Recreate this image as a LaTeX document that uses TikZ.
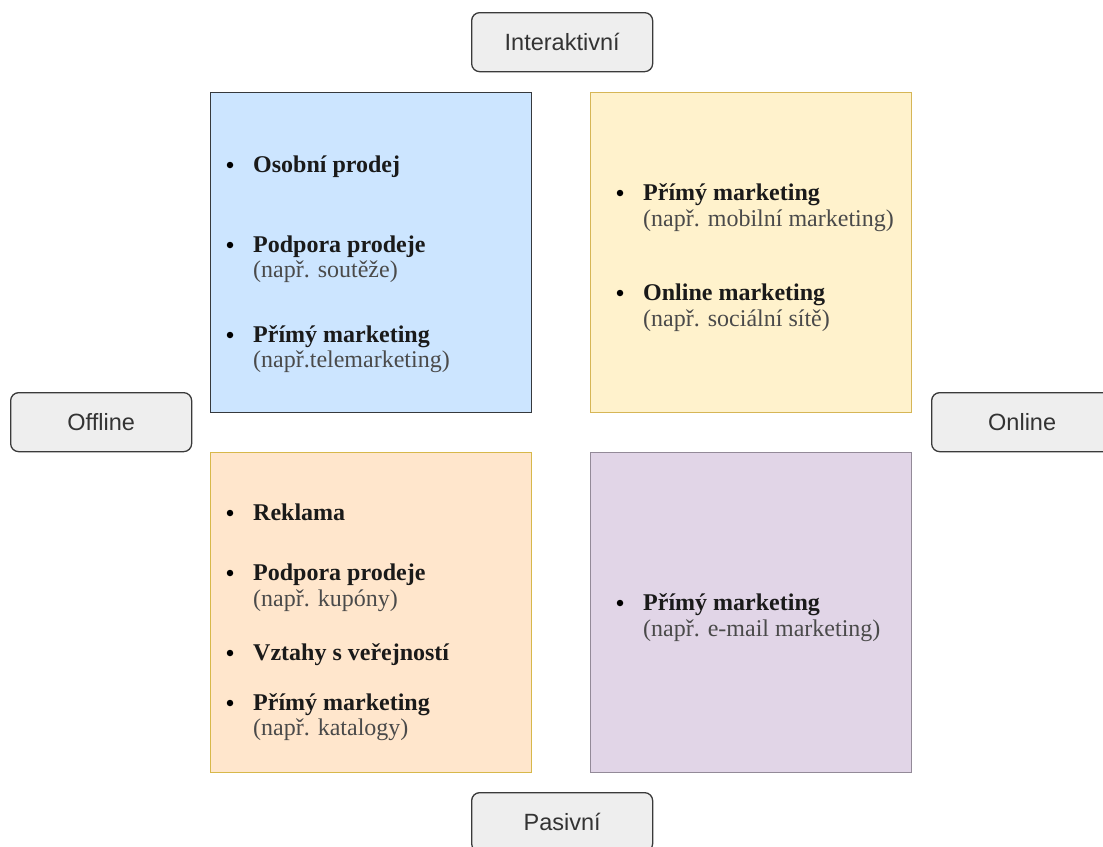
\documentclass[tikz,border=0pt]{standalone}
\usepackage{fontspec}
\setmainfont{Liberation Serif}
\newfontfamily\labelfont{Liberation Sans}
\definecolor{bluefill}{HTML}{CCE5FF}
\definecolor{blueline}{HTML}{36393D}
\definecolor{yelfill}{HTML}{FFF2CC}
\definecolor{yelline}{HTML}{D6B656}
\definecolor{orfill}{HTML}{FFE6CC}
\definecolor{orline}{HTML}{D7B84A}
\definecolor{purfill}{HTML}{E1D5E7}
\definecolor{purline}{HTML}{938A98}
\definecolor{lblfill}{HTML}{EEEEEE}
\definecolor{lblline}{HTML}{3A3A3A}
\definecolor{lbltext}{HTML}{333333}
\definecolor{headtext}{HTML}{1A1A1A}
\definecolor{subtext}{HTML}{4A4A4A}
\newcommand\bitem[4]{%
  \node[bul] (#1b) at (#2-23,#3-7) {};
  \node[head] (#1) at (#2,#3) {#4};}
\newcommand\bsub[4]{\node[sub] (#1) at (#2,#3) {#4};}
\begin{document}
\begin{tikzpicture}[x=1pt,y=-1pt,
  quad/.style={line width=1.3pt, minimum width=321pt, minimum height=320pt, anchor=north west, inner sep=0pt},
  lbl/.style={draw=lblline, fill=lblfill, line width=1.3pt, rounded corners=8pt, minimum width=181pt, minimum height=59pt, anchor=north west, inner sep=0pt, font=\labelfont\fontsize{23.5}{27}\selectfont, text=lbltext},
  head/.style={anchor=base west, inner sep=0pt, font=\bfseries\fontsize{24}{26}\selectfont, text=headtext},
  sub/.style={anchor=base west, inner sep=0pt, font=\fontsize{24}{26}\selectfont, text=subtext},
  bul/.style={circle, fill=black, draw=none, inner sep=0pt, minimum size=6.5pt}]
\useasboundingbox (0,0) rectangle (1103,846);
\fill[white] (0,0) rectangle (1103,846);
% quadrants
\node[quad, draw=blueline, fill=bluefill] (qio) at (210,92) {};
\node[quad, draw=yelline, fill=yelfill] (qin) at (590,92) {};
\node[quad, draw=orline, fill=orfill] (qpo) at (210,452) {};
\node[quad, draw=purline, fill=purfill] (qpn) at (590,452) {};
% axis labels
\node[lbl] (interakt) at (471,12) {Interaktivní};
\node[lbl] (offline) at (10,392) {Offline};
\node[lbl] (online) at (931,392) {Online};
\node[lbl] (pasiv) at (471,792) {Pasivní};
% blue
\bitem{a1}{253}{172}{Osobní prodej}
\bitem{a2}{253}{252}{Podpora prodeje}
\bsub{a2s}{253}{277}{(např. soutěže)}
\bitem{a3}{253}{342}{Přímý marketing}
\bsub{a3s}{253}{367}{(např.telemarketing)}
% yellow
\bitem{b1}{643}{200}{Přímý marketing}
\bsub{b1s}{643}{226}{(např. mobilní marketing)}
\bitem{b2}{643}{300}{Online marketing}
\bsub{b2s}{643}{326}{(např. sociální sítě)}
% orange
\bitem{c1}{253}{520}{Reklama}
\bitem{c2}{253}{580}{Podpora prodeje}
\bsub{c2s}{253}{606}{(např. kupóny)}
\bitem{c3}{253}{660}{Vztahy s veřejností}
\bitem{c4}{253}{710}{Přímý marketing}
\bsub{c4s}{253}{735}{(např. katalogy)}
% purple
\bitem{d1}{643}{610}{Přímý marketing}
\bsub{d1s}{643}{636}{(např. e-mail marketing)}
\end{tikzpicture}
\end{document}
